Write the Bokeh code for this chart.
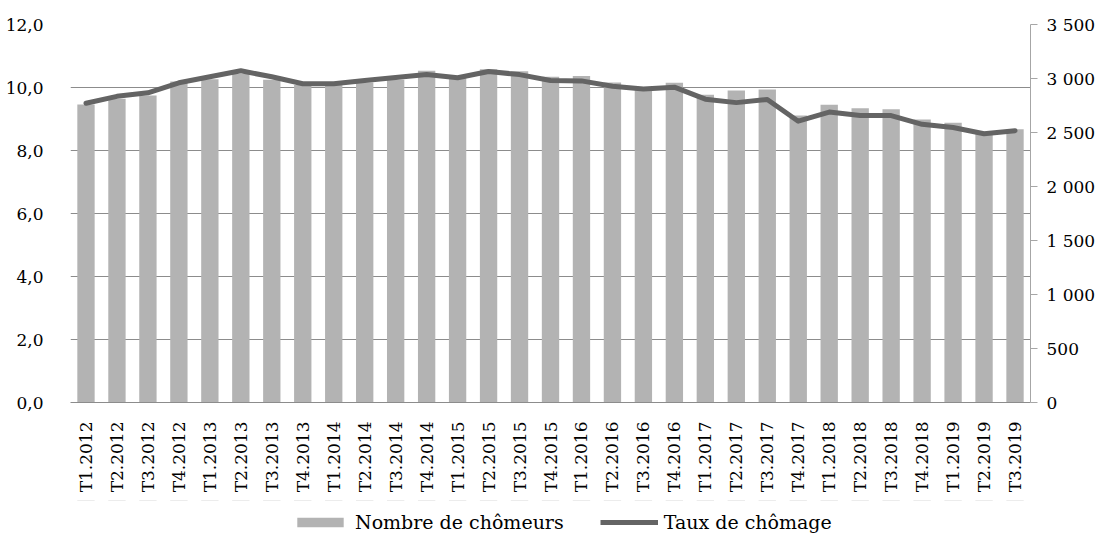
from bokeh.plotting import figure
from bokeh.layouts import column
from bokeh.models import (Range1d, LinearAxis, FixedTicker, CustomJSTickFormatter,
                          Legend, LegendItem, FactorRange, ColumnDataSource)
from bokeh.embed import file_html
from bokeh.resources import INLINE
import math

quarters = ["T1.2012", "T2.2012", "T3.2012", "T4.2012",
            "T1.2013", "T2.2013", "T3.2013", "T4.2013",
            "T1.2014", "T2.2014", "T3.2014", "T4.2014",
            "T1.2015", "T2.2015", "T3.2015", "T4.2015",
            "T1.2016", "T2.2016", "T3.2016", "T4.2016",
            "T1.2017", "T2.2017", "T3.2017", "T4.2017",
            "T1.2018", "T2.2018", "T3.2018", "T4.2018",
            "T1.2019", "T2.2019", "T3.2019"]

# Nombre de chômeurs (milliers) - right axis
chomeurs = [2759, 2812, 2843, 2972, 2994, 3043, 2988, 2940,
            2940, 2963, 2988, 3071, 3006, 3086, 3068, 3016,
            3022, 2963, 2915, 2960, 2850, 2889, 2898, 2657,
            2756, 2725, 2716, 2620, 2590, 2490, 2531]

# Taux de chômage (%) - left axis
taux = [9.50, 9.72, 9.83, 10.15, 10.34, 10.53, 10.34, 10.12,
        10.12, 10.22, 10.32, 10.41, 10.31, 10.51, 10.41, 10.22,
        10.21, 10.04, 9.95, 10.01, 9.63, 9.52, 9.62, 8.93,
        9.22, 9.11, 9.11, 8.83, 8.73, 8.53, 8.63]

left_ticks = [0, 2, 4, 6, 8, 10, 12]
right_ticks = [0, 500, 1000, 1500, 2000, 2500, 3000, 3500]
series_names = ["Nombre de chômeurs", "Taux de chômage"]

BAR_COLOR = "#b3b3b3"
LINE_COLOR = "#646464"

src = ColumnDataSource(dict(q=quarters, n=chomeurs, t=taux))

FONT = "DejaVu Serif"
TICK_SIZE = "17px"

p = figure(width=1098, height=500, x_range=FactorRange(*quarters, range_padding=0),
           y_range=Range1d(0, 12), output_backend="svg", toolbar_location=None,
           min_border_left=70, min_border_right=66, min_border_top=24,
           min_border_bottom=98)
p.outline_line_color = None
p.background_fill_color = "white"
p.border_fill_color = "white"

p.extra_y_ranges = {"n": Range1d(0, 3500)}

p.vbar(x="q", top="n", width=0.56, source=src, y_range_name="n",
       fill_color=BAR_COLOR, line_color=None)
p.line(x="q", y="t", source=src, line_color=LINE_COLOR, line_width=5,
       line_join="round", line_cap="round")

# grid
p.xgrid.grid_line_color = None
p.ygrid.grid_line_color = "#8c8c8c"
p.ygrid.grid_line_width = 1
p.ygrid.ticker = FixedTicker(ticks=left_ticks)

# left axis
yl = p.yaxis[0]
yl.ticker = FixedTicker(ticks=left_ticks)
yl.formatter = CustomJSTickFormatter(code="return tick.toFixed(1).replace('.', ',');")
yl.axis_line_color = None
yl.major_tick_line_color = None
yl.minor_tick_line_color = None
yl.major_label_standoff = 21
yl.major_label_text_font = FONT
yl.major_label_text_font_size = TICK_SIZE
yl.major_label_text_color = "#000000"

# right axis
yr = LinearAxis(y_range_name="n")
yr.ticker = FixedTicker(ticks=right_ticks)
yr.formatter = CustomJSTickFormatter(
    code="return Math.round(tick).toString().replace(/\\B(?=(\\d{3})+(?!\\d))/g, ' ');")
yr.axis_line_color = "#a6a6a6"
yr.major_tick_line_color = "#a6a6a6"
yr.major_tick_out = 7
yr.major_tick_in = 0
yr.minor_tick_line_color = None
yr.major_label_standoff = 9
yr.major_label_text_font = FONT
yr.major_label_text_font_size = TICK_SIZE
yr.major_label_text_color = "#000000"
p.add_layout(yr, "right")

# bottom axis
xa = p.xaxis[0]
xa.axis_line_color = "#8c8c8c"
xa.major_tick_line_color = None
xa.minor_tick_line_color = None
xa.major_label_orientation = math.pi / 2
xa.major_label_standoff = 13
xa.major_label_text_font = FONT
xa.major_label_text_font_size = TICK_SIZE
xa.major_label_text_color = "#000000"

# legend strip: a second figure below, same renderers kept out of its visible range
lf = figure(width=1098, height=33, x_range=p.x_range, y_range=Range1d(-20, -10),
            output_backend="svg", toolbar_location=None,
            x_axis_location=None, y_axis_location=None,
            min_border_left=0, min_border_right=0, min_border_top=0,
            min_border_bottom=0)
lf.outline_line_color = None
lf.xgrid.visible = False
lf.ygrid.visible = False
lb = lf.vbar(x="q", top="n", width=0.56, source=src, fill_color=BAR_COLOR, line_color=None)
ll = lf.line(x="q", y="t", source=src, line_color=LINE_COLOR, line_width=5)

leg = Legend(items=[LegendItem(label=series_names[0], renderers=[lb]),
                    LegendItem(label=series_names[1], renderers=[ll])],
             location=(221, 0), orientation="horizontal",
             glyph_width=58, glyph_height=12, label_height=20, label_standoff=6,
             padding=0, margin=0, spacing=36,
             label_text_font=FONT, label_text_font_size="19px",
             label_text_color="#000000",
             border_line_color=None, background_fill_alpha=0)
lf.add_layout(leg, "center")

open("out.html", "w").write(file_html(column(p, lf), INLINE))
